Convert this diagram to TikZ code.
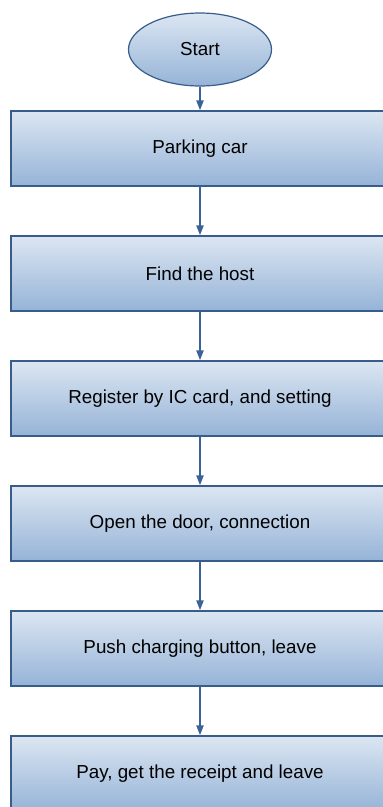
\documentclass[tikz,border=0pt]{standalone}
\usepackage{fontspec}
\setmainfont{Liberation Sans}
\usetikzlibrary{shapes.geometric,arrows.meta}
\definecolor{topc}{RGB}{220,230,242}
\definecolor{botc}{RGB}{149,179,215}
\definecolor{edgec}{RGB}{56,93,138}
\definecolor{arrc}{RGB}{58,98,150}
\begin{document}
\begin{tikzpicture}[x=1pt,y=-1pt,
  stepbox/.style={draw=edgec,line width=1.2pt,top color=topc,bottom color=botc,
    minimum width=378pt,minimum height=75pt,inner sep=0pt,
    font=\fontsize{18.8}{21}\selectfont,text=black},
  startshape/.style={ellipse,draw=edgec,line width=1.2pt,top color=topc,bottom color=botc,
    minimum width=143pt,minimum height=73pt,inner sep=0pt,
    font=\fontsize{18.8}{21}\selectfont,text=black},
  conn/.style={draw=arrc,line width=2pt,-{Triangle[length=10pt,width=7pt]}}]
\useasboundingbox (0,0) rectangle (383,807);
\node[startshape] (s) at (200,49.5) {Start};
\node[stepbox] (b1) at (200,148.5) {Parking car};
\node[stepbox] (b2) at (200,273.5) {Find the host};
\node[stepbox] (b3) at (200,398.5) {Register by IC card, and setting};
\node[stepbox] (b4) at (200,523.5) {Open the door, connection};
\node[stepbox] (b5) at (200,648.5) {Push charging button, leave};
\node[stepbox] (b6) at (200,773.5) {Pay, get the receipt and leave};
\draw[conn] (s) -- (b1);
\draw[conn] (b1) -- (b2);
\draw[conn] (b2) -- (b3);
\draw[conn] (b3) -- (b4);
\draw[conn] (b4) -- (b5);
\draw[conn] (b5) -- (b6);
\end{tikzpicture}
\end{document}
